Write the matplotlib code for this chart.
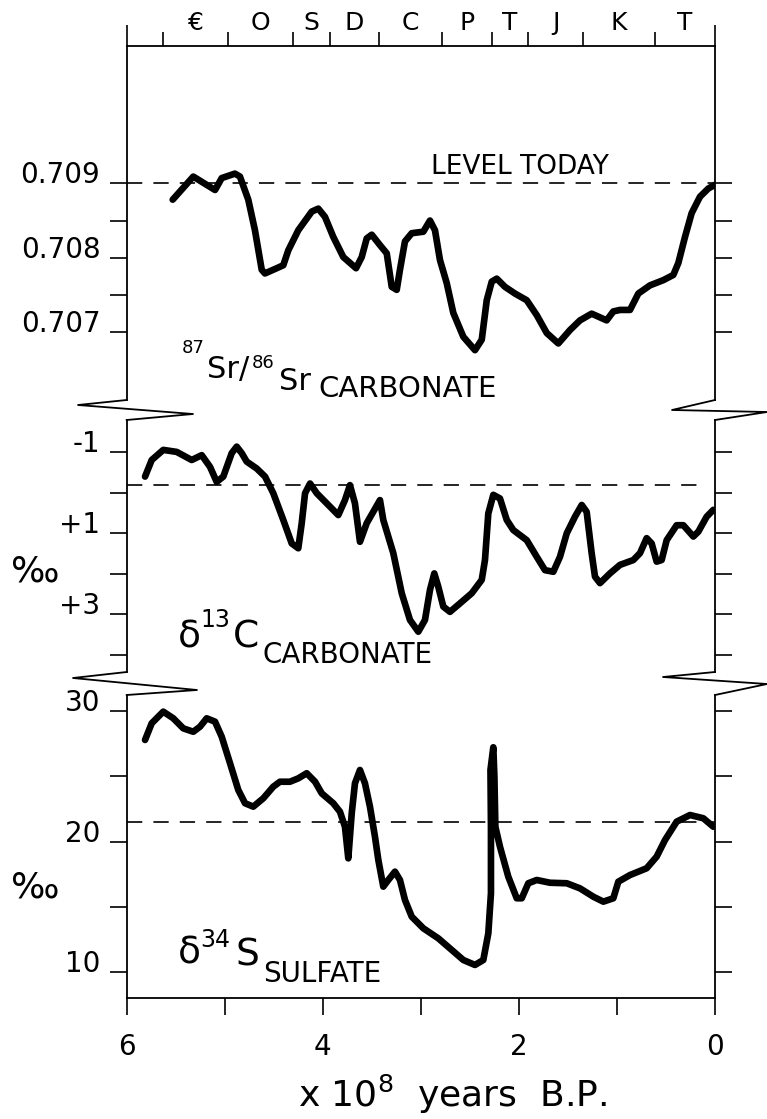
import matplotlib
matplotlib.use("Agg")
import matplotlib.pyplot as plt
from matplotlib.lines import Line2D

W, H = 767, 1119

# geologic periods along the top (x 10^8 yr B.P.)
PERIOD_BOUNDS = [5.633, 4.964, 4.301, 3.927, 3.424, 2.787, 2.277, 1.904, 1.349, 0.612, 0.0]
PERIOD_NAMES = ["€", "O", "S", "D", "C", "P", "T", "J", "K", "T"]

# 87Sr/86Sr of carbonate
SR_AGE = [5.531, 5.321, 5.099, 5.031, 4.896, 4.845, 4.760, 4.692, 4.623, 4.590,
          4.470, 4.403, 4.352, 4.250, 4.113, 4.046, 3.978, 3.893, 3.791, 3.661,
          3.603, 3.552, 3.501, 3.417, 3.348, 3.297, 3.246, 3.213, 3.162, 3.093,
          2.975, 2.907, 2.856, 2.805, 2.736, 2.669, 2.567, 2.448, 2.379, 2.328,
          2.277, 2.226, 2.142, 2.040, 1.920, 1.818, 1.716, 1.598, 1.479, 1.377,
          1.258, 1.105, 1.037, 0.969, 0.867, 0.782, 0.663, 0.527, 0.425, 0.374,
          0.306, 0.238, 0.153, 0.068, 0.0]
SR_RATIO = [0.70878, 0.70909, 0.70891, 0.70907, 0.70913, 0.70909, 0.70878, 0.70837, 0.70784, 0.70779,
            0.70786, 0.70790, 0.70810, 0.70837, 0.70862, 0.70866, 0.70855, 0.70828, 0.70801, 0.70786,
            0.70801, 0.70826, 0.70831, 0.70817, 0.70806, 0.70761, 0.70757, 0.70784, 0.70822, 0.70833,
            0.70835, 0.70850, 0.70837, 0.70797, 0.70766, 0.70726, 0.70694, 0.70676, 0.70690, 0.70743,
            0.70768, 0.70772, 0.70761, 0.70752, 0.70743, 0.70723, 0.70699, 0.70685, 0.70703, 0.70716,
            0.70725, 0.70716, 0.70728, 0.70730, 0.70730, 0.70752, 0.70763, 0.70770, 0.70777, 0.70793,
            0.70828, 0.70860, 0.70882, 0.70893, 0.70898]
SR_TODAY = 0.709

# d13C of carbonate (per mil)
C_AGE = [5.813, 5.745, 5.627, 5.490, 5.337, 5.235, 5.150, 5.082, 5.015, 4.929,
         4.878, 4.827, 4.776, 4.674, 4.589, 4.505, 4.403, 4.317, 4.250, 4.215,
         4.181, 4.130, 4.062, 3.960, 3.842, 3.774, 3.723, 3.672, 3.621, 3.552,
         3.417, 3.383, 3.281, 3.195, 3.111, 3.026, 2.958, 2.907, 2.863, 2.822,
         2.771, 2.703, 2.601, 2.481, 2.379, 2.346, 2.312, 2.261, 2.193, 2.124,
         2.057, 1.920, 1.818, 1.734, 1.649, 1.581, 1.512, 1.428, 1.359, 1.309,
         1.258, 1.224, 1.173, 1.071, 0.969, 0.833, 0.765, 0.697, 0.646, 0.595,
         0.544, 0.493, 0.391, 0.323, 0.221, 0.170, 0.085, 0.017]
C_DELTA = [-0.40, -0.81, -1.06, -1.01, -0.81, -0.93, -0.64, -0.27, -0.40, -0.98,
           -1.14, -0.98, -0.77, -0.60, -0.40, 0.01, 0.67, 1.25, 1.37, 0.75,
           0.01, -0.23, 0.01, 0.26, 0.55, 0.18, -0.19, 0.26, 1.21, 0.75,
           0.18, 0.67, 1.49, 2.48, 3.14, 3.43, 3.14, 2.40, 1.99, 2.32,
           2.81, 2.94, 2.73, 2.48, 2.15, 1.66, 0.51, 0.05, 0.14, 0.67,
           0.92, 1.17, 1.58, 1.91, 1.95, 1.58, 1.00, 0.59, 0.30, 0.47,
           1.49, 2.07, 2.23, 1.99, 1.78, 1.66, 1.49, 1.12, 1.25, 1.70,
           1.66, 1.17, 0.80, 0.80, 1.08, 0.96, 0.59, 0.42]
C_TODAY = -0.2

# d34S of sulfate (per mil)
S_AGE = [5.813, 5.745, 5.627, 5.525, 5.423, 5.321, 5.252, 5.184, 5.099, 5.031,
         4.946, 4.862, 4.793, 4.709, 4.607, 4.505, 4.437, 4.335, 4.250, 4.164,
         4.079, 4.011, 3.893, 3.825, 3.774, 3.740, 3.705, 3.672, 3.621, 3.570,
         3.519, 3.468, 3.434, 3.383, 3.332, 3.264, 3.213, 3.162, 3.093, 2.975,
         2.822, 2.685, 2.567, 2.448, 2.363, 2.312, 2.285, 2.285, 2.290, 2.261,
         2.250, 2.240, 2.193, 2.108, 2.022, 1.971, 1.904, 1.818, 1.683, 1.512,
         1.377, 1.241, 1.139, 1.037, 0.986, 0.867, 0.697, 0.595, 0.510, 0.391,
         0.255, 0.119, 0.017]
S_DELTA = [27.78, 29.06, 29.95, 29.44, 28.67, 28.41, 28.80, 29.44, 29.18, 28.03,
           25.99, 23.95, 22.93, 22.67, 23.31, 24.20, 24.58, 24.58, 24.84, 25.23,
           24.58, 23.69, 22.93, 22.28, 21.13, 18.71, 22.16, 24.46, 25.48, 24.46,
           22.67, 20.37, 18.60, 16.54, 17.05, 17.69, 17.05, 15.52, 14.24, 13.35,
           12.58, 11.69, 10.92, 10.54, 10.92, 12.96, 16.03, 21.13, 25.48, 27.22,
           25.00, 21.13, 19.60, 17.30, 15.65, 15.65, 16.80, 17.05, 16.84, 16.80,
           16.41, 15.77, 15.39, 15.65, 16.92, 17.43, 17.95, 18.84, 20.11, 21.52,
           22.03, 21.78, 21.13]
S_TODAY = 21.5

LW_AX = 1.3
LW_CURVE = 4.8
TICK_FS = 20
plt.rcParams["lines.scale_dashes"] = False


def fx(px):
    return px / W


def fy(py):
    return 1 - py / H


X0, X1 = 126.7, 715.0
fig = plt.figure(figsize=(W / 100, H / 100), dpi=100)


def add_panel(top, bottom):
    ax = fig.add_axes([fx(X0), fy(bottom), (X1 - X0) / W, (bottom - top) / H])
    ax.set_xlim(6, 0)
    for sp in ax.spines.values():
        sp.set_linewidth(LW_AX)
    ax.spines["top"].set_visible(False)
    ax.spines["bottom"].set_visible(False)
    ax.tick_params(axis="y", which="both", left=True, right=True, direction="out",
                   length=12, width=1.2, pad=7, labelsize=TICK_FS)
    ax.tick_params(axis="x", which="both", bottom=False, top=False,
                   labelbottom=False, labeltop=False)
    return ax


ax1 = add_panel(46, 400)
ax2 = add_panel(420, 672)
ax3 = add_panel(695, 998)

# Sr panel
ax1.set_ylim(0.706091, 0.710843)
ax1.set_yticks([0.707, 0.7075, 0.708, 0.7085, 0.709],
               labels=["0.707", "", "0.708", "", "0.709"])
ax1.spines["top"].set_visible(True)
ax1.set_xticks([6, 0])
ax1.set_xticks(PERIOD_BOUNDS[:-1], minor=True)
ax1.tick_params(axis="x", which="major", top=True, direction="out", length=15, width=1.2)
ax1.tick_params(axis="x", which="minor", top=True, direction="out", length=10, width=1.2)
for i, name in enumerate(PERIOD_NAMES):
    mid = (PERIOD_BOUNDS[i] + PERIOD_BOUNDS[i + 1]) / 2
    ax1.annotate(name, xy=(mid, 1), xycoords=("data", "axes fraction"),
                 xytext=(0, 16.8), textcoords="offset points",
                 ha="center", va="center", fontsize=18)
ax1.plot(SR_AGE, SR_RATIO, color="black", lw=LW_CURVE,
         solid_capstyle="round", solid_joinstyle="round")
ax1.axhline(SR_TODAY, color="black", lw=1.2, dashes=(11, 8))
ax1.annotate("LEVEL TODAY", xy=(1.99, SR_TODAY), xytext=(0, 7),
             textcoords="offset points", ha="center", va="baseline", fontsize=19)

# C panel
ax2.set_ylim(4.425, -1.798)
ax2.set_yticks([-1, 0, 1, 2, 3, 4], labels=["-1", "", "+1", "", "+3", ""])
ax2.plot(C_AGE, C_DELTA, color="black", lw=LW_CURVE,
         solid_capstyle="round", solid_joinstyle="round")
ax2.axhline(C_TODAY, xmax=0.983, color="black", lw=1.2, dashes=(11, 8))

# S panel
ax3.set_ylim(8.008, 31.226)
ax3.set_yticks([10, 15, 20, 25, 30], labels=["10", "", "20", "", "30"])
ax3.spines["bottom"].set_visible(True)
ax3.set_xticks([6, 5, 4, 3, 2, 1, 0], labels=["6", "", "4", "", "2", "", "0"])
ax3.tick_params(axis="x", which="major", bottom=True, labelbottom=True,
                direction="out", length=12, width=1.2, pad=13, labelsize=TICK_FS)
ax3.plot(S_AGE, S_DELTA, color="black", lw=LW_CURVE,
         solid_capstyle="round", solid_joinstyle="round")
ax3.axhline(S_TODAY, color="black", lw=1.2, dashes=(11, 8))
ax3.set_xlabel("x 10$^{8}$  years  B.P.", fontsize=26)
ax3.xaxis.set_label_coords((453 - X0) / (X1 - X0), -(1107 - 998) / 303)
ax3.xaxis.label.set_va("baseline")

for ax in (ax1, ax2, ax3):
    for lab in ax.get_yticklabels():
        lab.set_va("baseline")

# axis breaks
BREAKS = [
    [(X0, 400), (78, 405), (193, 414), (X0, 420)],
    [(X0, 672), (73, 678), (197, 690), (X0, 695)],
    [(X1, 400), (672, 410), (767, 412), (X1, 420)],
    [(X1, 672), (663, 677), (767, 684), (X1, 695)],
]
for pts in BREAKS:
    fig.add_artist(Line2D([fx(p[0]) for p in pts], [fy(p[1]) for p in pts],
                          transform=fig.transFigure, color="black", lw=LW_AX))

# per mil labels
fig.text(fx(35), fy(572), "‰", fontsize=26, ha="center", va="center")
fig.text(fx(35), fy(888), "‰", fontsize=26, ha="center", va="center")


def label(pieces):
    for s, x, y, size in pieces:
        fig.text(fx(x), fy(y), s, fontsize=size, ha="left", va="baseline")


label([("87", 181.7, 353, 13), ("Sr/", 207, 378, 22), ("86", 252, 368, 13),
       ("Sr", 279, 390, 22), ("CARBONATE", 318, 397, 21)])
label([("δ", 178, 647, 27), ("13", 200, 627, 17), ("C", 233, 647, 27),
       ("CARBONATE", 263, 663, 20)])
label([("δ", 178, 964, 27), ("34", 200, 947, 17), ("S", 235, 965, 27),
       ("SULFATE", 263, 982, 20)])

fig.savefig("out.png", dpi=100)
